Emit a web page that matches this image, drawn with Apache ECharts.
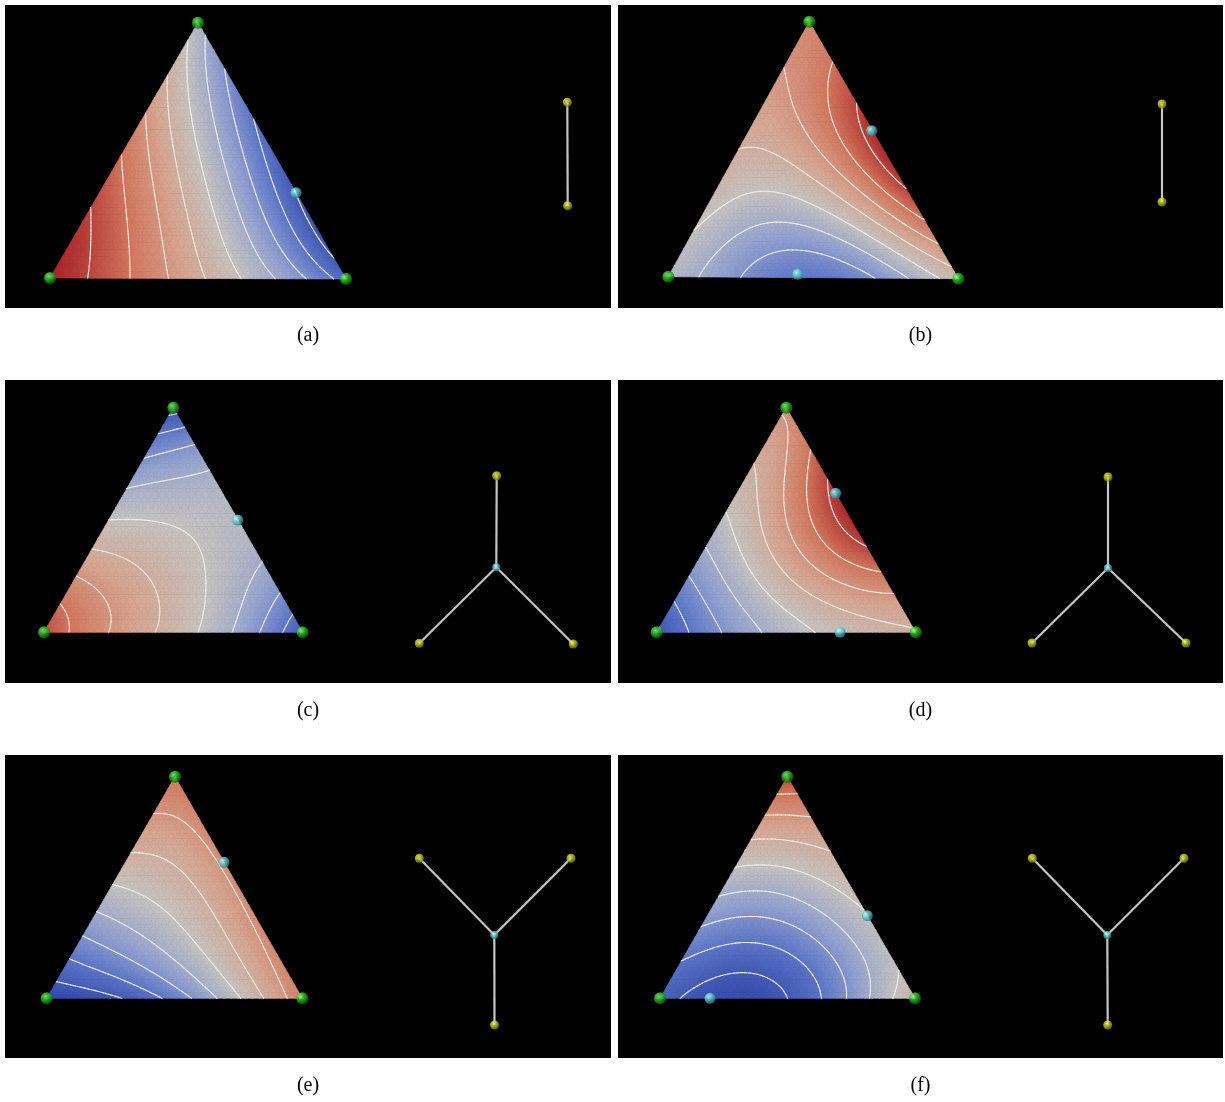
<!DOCTYPE html>
<html><head><meta charset="utf-8">
<script src="https://cdn.jsdelivr.net/npm/echarts@6/dist/echarts.min.js"></script>
<style>html,body{margin:0;padding:0;background:#fff}#c{width:1225px;height:1102px}</style>
</head><body><div id="c"></div>
<script>
// ---------------- data ----------------
const panelLabels = ['(a)', '(b)', '(c)', '(d)', '(e)', '(f)'];
// panel frames [x0, y0, x1, y1]
const panelBoxes = [[5,5,611,308],[618,5,1223,308],[5,380,611,683],[618,380,1223,683],[5,755,611,1058],[618,755,1223,1058]];
// triangle corners: bottom-left, bottom-right, top
const triangleVertices = [
  [[50,278],[346,279],[198,22.7]],
  [[668.3,276.7],[958.3,278.7],[809.3,21.7]],
  [[44,632.3],[302.7,632.3],[173.3,407.7]],
  [[656.7,632.3],[915.7,632.3],[786.3,407.7]],
  [[46.7,998.3],[302.3,998.3],[175,776.7]],
  [[660,998.3],[915,998.3],[787.3,776.7]]
];
// scalar field samples on a barycentric grid (rows from bottom edge to top vertex), 0 = blue, 1 = red
const fieldA = [0.97,0.815,0.62,0.41,0.15, 0.91,0.69,0.42,0.08, 0.79,0.50,0.15, 0.63,0.26, 0.45];
const fieldB = [0.45,0.30,0.21,0.33,0.55, 0.52,0.43,0.55,0.82, 0.60,0.68,0.95, 0.68,0.86, 0.74];
const fieldC = [0.88,0.70,0.56,0.38,0.10, 0.70,0.61,0.50,0.36, 0.50,0.49,0.46, 0.32,0.38, 0.05];
const fieldD = [0.08,0.30,0.45,0.55,0.60, 0.30,0.50,0.68,0.78, 0.48,0.70,0.95, 0.60,0.85, 0.72];
const fieldE = [0.03,0.08,0.24,0.49,0.76, 0.27,0.38,0.53,0.73, 0.49,0.56,0.72, 0.655,0.73, 0.79];
const fieldF = [0.13,0.05,0.10,0.32,0.58, 0.25,0.20,0.30,0.48, 0.43,0.43,0.53, 0.63,0.65, 0.90];
const contourLevels = [0.1,0.2,0.3,0.4,0.5,0.6,0.7,0.8,0.9];
// markers lying on triangle edges
const edgeMarkers = [
  [[296,192.7]],
  [[871.7,130.7],[797.7,274.3]],
  [[237.7,520]],
  [[835.7,493.3],[840,632.3]],
  [[224,862.3]],
  [[867.3,915.7],[710,998.3]]
];
// graph drawings on the right of each panel
const graphLeaves = [
  [[567.3,102.3],[567.7,205.7]],
  [[1162,104],[1162,202]],
  [[496.7,475.7],[419.3,643.3],[573.3,644]],
  [[1108,477],[1032,643],[1186,643]],
  [[419.3,858.3],[571,858.3],[494.5,1025]],
  [[1032.3,858.3],[1184,858.3],[1107.7,1025]]
];
const graphHubs = [null, null, [496.3,567.3], [1108,568], [494.3,935], [1107.3,935]];

// ---------------- helpers ----------------
const fields = [fieldA, fieldB, fieldC, fieldD, fieldE, fieldF];
const ORDER = 4;
const cmapStops = [[0,[45,65,165]],[0.2,[92,117,200]],[0.35,[148,162,208]],[0.5,[198,195,192]],[0.65,[214,165,145]],[0.8,[210,118,92]],[1,[162,20,32]]];
function cmap(v){
  v = Math.max(0, Math.min(1, v));
  for (let k = 1; k < cmapStops.length; k++) {
    if (v <= cmapStops[k][0]) {
      const a = cmapStops[k-1], b = cmapStops[k];
      const t = (v - a[0]) / (b[0] - a[0]);
      const c = a[1].map((x, i) => Math.round(x + (b[1][i] - x) * t));
      return 'rgb(' + c.join(',') + ')';
    }
  }
  return 'rgb(' + cmapStops[cmapStops.length-1][1].join(',') + ')';
}
function lag(m, t){ let r = 1; for (let a = 0; a < m; a++) r *= (ORDER * t - a) / (a + 1); return r; }
function evalField(vals, lr, lt){
  const ll = 1 - lr - lt; let s = 0, k = 0;
  for (let j = 0; j <= ORDER; j++) for (let i = 0; i <= ORDER - j; i++) {
    s += vals[k++] * lag(i, lr) * lag(j, lt) * lag(ORDER - i - j, ll);
  }
  return s;
}
function meshPoint(p, N, i, j){
  const [L, R, T] = triangleVertices[p];
  const lr = i / N, lt = j / N;
  return [L[0] + lr * (R[0] - L[0]) + lt * (T[0] - L[0]), L[1] + lr * (R[1] - L[1]) + lt * (T[1] - L[1]), evalField(fields[p], lr, lt)];
}
function meshTriangles(p, N){
  const out = [];
  for (let j = 0; j < N; j++) for (let i = 0; i < N - j; i++) {
    out.push([meshPoint(p,N,i,j), meshPoint(p,N,i+1,j), meshPoint(p,N,i,j+1)]);
    if (i + j <= N - 2) out.push([meshPoint(p,N,i+1,j), meshPoint(p,N,i+1,j+1), meshPoint(p,N,i,j+1)]);
  }
  return out;
}
const shadeItems = [];
const contourSegs = [];
for (let p = 0; p < 6; p++) {
  meshTriangles(p, 36).forEach(t => shadeItems.push([t[0][0],t[0][1],t[1][0],t[1][1],t[2][0],t[2][1],t[0][2],t[1][2],t[2][2]]));
  meshTriangles(p, 64).forEach(t => {
    contourLevels.forEach(lv => {
      const pts = [];
      for (let e = 0; e < 3; e++) {
        const a = t[e], b = t[(e+1)%3];
        const sa = a[2] >= lv, sb = b[2] >= lv;
        if (sa !== sb) {
          const u = (lv - a[2]) / (b[2] - a[2]);
          pts.push([a[0] + u*(b[0]-a[0]), a[1] + u*(b[1]-a[1])]);
        }
      }
      if (pts.length === 2) contourSegs.push([pts[0][0],pts[0][1],pts[1][0],pts[1][1]]);
    });
  });
}
const greenBalls = [];
triangleVertices.forEach(tv => tv.forEach(v => greenBalls.push(v)));
const cyanBalls = [];
edgeMarkers.forEach(m => m.forEach(v => cyanBalls.push(v)));
const yellowBalls = [];
graphLeaves.forEach(g => g.forEach(v => yellowBalls.push(v)));
const hubBalls = graphHubs.filter(h => h);
const graphEdges = [];
graphLeaves.forEach((g, p) => {
  if (graphHubs[p]) g.forEach(v => graphEdges.push([graphHubs[p][0], graphHubs[p][1], v[0], v[1]]));
  else graphEdges.push([g[0][0], g[0][1], g[1][0], g[1][1]]);
});
const captionItems = panelBoxes.map((b, i) => [(b[0] + b[2]) / 2, b[3] + 28, i]);

function shadeFill(p1, p2, p3, f1, f2, f3){
  const d1x = p2[0]-p1[0], d1y = p2[1]-p1[1], d2x = p3[0]-p1[0], d2y = p3[1]-p1[1];
  const df1 = f2 - f1, df2 = f3 - f1;
  const det = d1x*d2y - d1y*d2x;
  const fmin = Math.min(f1,f2,f3), fmax = Math.max(f1,f2,f3);
  if (Math.abs(det) < 1e-9 || fmax - fmin < 1e-5) return cmap((f1+f2+f3)/3);
  const gx = (df1*d2y - df2*d1y) / det, gy = (d1x*df2 - d2x*df1) / det;
  const g2 = gx*gx + gy*gy;
  const pm = f1 === fmin ? p1 : (f2 === fmin ? p2 : p3);
  const s = (fmax - fmin) / g2;
  return new echarts.graphic.LinearGradient(pm[0], pm[1], pm[0] + gx*s, pm[1] + gy*s, [
    {offset: 0, color: cmap(fmin)}, {offset: 0.5, color: cmap((fmin+fmax)/2)}, {offset: 1, color: cmap(fmax)}
  ], true);
}
function ball(c0, c1, c2){
  return {type: 'radial', x: 0.38, y: 0.34, r: 0.7, colorStops: [{offset: 0, color: c0}, {offset: 0.5, color: c1}, {offset: 1, color: c2}]};
}

const chart = echarts.init(document.getElementById('c'), null, {renderer: 'canvas', width: 1225, height: 1102});
chart.setOption({
  animation: false,
  backgroundColor: '#ffffff',
  grid: {left: 0, top: 0, width: 1225, height: 1102},
  xAxis: {type: 'value', min: 0, max: 1225, show: false},
  yAxis: {type: 'value', min: 0, max: 1102, inverse: true, show: false},
  series: [
    {type: 'custom', silent: true, z: 1, data: panelBoxes, renderItem: (params, api) => {
      const a = api.coord([api.value(0), api.value(1)]), b = api.coord([api.value(2), api.value(3)]);
      return {type: 'rect', shape: {x: a[0], y: a[1], width: b[0]-a[0], height: b[1]-a[1]}, style: {fill: '#000000'}};
    }},
    {type: 'custom', silent: true, z: 2, progressive: 0, data: shadeItems, renderItem: (params, api) => {
      const p1 = api.coord([api.value(0), api.value(1)]), p2 = api.coord([api.value(2), api.value(3)]), p3 = api.coord([api.value(4), api.value(5)]);
      const fill = shadeFill(p1, p2, p3, api.value(6), api.value(7), api.value(8));
      return {type: 'polygon', shape: {points: [p1, p2, p3]}, style: {fill: fill, stroke: fill, lineWidth: 0.7, lineJoin: 'round'}};
    }},
    {type: 'custom', silent: true, z: 3, progressive: 0, data: contourSegs, renderItem: (params, api) => {
      const a = api.coord([api.value(0), api.value(1)]), b = api.coord([api.value(2), api.value(3)]);
      return {type: 'line', shape: {x1: a[0], y1: a[1], x2: b[0], y2: b[1]}, style: {stroke: 'rgba(240,238,228,0.9)', lineWidth: 1.1, lineCap: 'round'}};
    }},
    {type: 'custom', silent: true, z: 4, data: graphEdges, renderItem: (params, api) => {
      const a = api.coord([api.value(0), api.value(1)]), b = api.coord([api.value(2), api.value(3)]);
      return {type: 'line', shape: {x1: a[0], y1: a[1], x2: b[0], y2: b[1]}, style: {stroke: '#c4c4c4', lineWidth: 2.2}};
    }},
    {type: 'scatter', silent: true, z: 5, symbol: 'circle', symbolSize: 12, data: greenBalls,
      itemStyle: {color: ball('#a8ff98', '#22c01a', '#0a5806')}},
    {type: 'scatter', silent: true, z: 5, symbol: 'circle', symbolSize: 11, data: cyanBalls,
      itemStyle: {color: ball('#d2ffff', '#5cc6ca', '#20747a')}},
    {type: 'scatter', silent: true, z: 5, symbol: 'circle', symbolSize: 9, data: yellowBalls,
      itemStyle: {color: ball('#ffffa0', '#c8cc12', '#6a6c00')}},
    {type: 'scatter', silent: true, z: 5, symbol: 'circle', symbolSize: 8, data: hubBalls,
      itemStyle: {color: ball('#d2ffff', '#5cc6ca', '#20747a')}},
    {type: 'custom', silent: true, z: 6, data: captionItems, renderItem: (params, api) => {
      const a = api.coord([api.value(0), api.value(1)]);
      return {type: 'text', style: {text: panelLabels[api.value(2)], x: a[0], y: a[1], align: 'center', verticalAlign: 'middle', font: '20px "Liberation Serif", "DejaVu Serif", serif', fill: '#000000'}};
    }}
  ]
});
</script>
</body></html>
